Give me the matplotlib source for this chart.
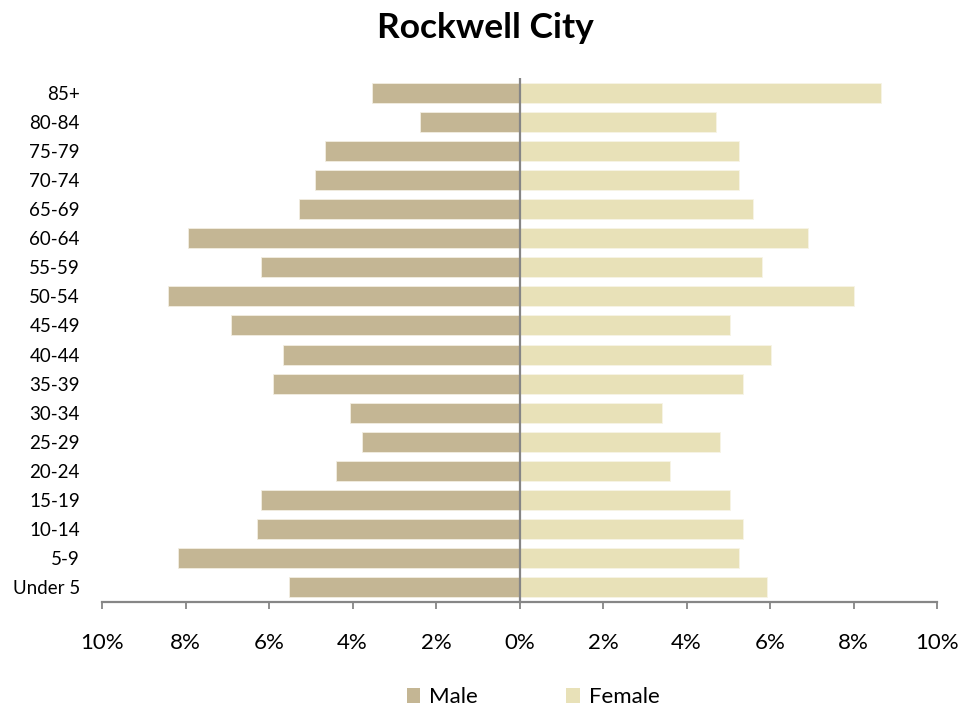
import matplotlib
matplotlib.use("Agg")
import matplotlib.pyplot as plt
from matplotlib.ticker import FuncFormatter
import numpy as np

plt.rcParams['font.family'] = ['Lato', 'DejaVu Sans']

age_groups = ["Under 5", "5-9", "10-14", "15-19", "20-24", "25-29", "30-34", "35-39",
              "40-44", "45-49", "50-54", "55-59", "60-64", "65-69", "70-74", "75-79",
              "80-84", "85+"]
male = [5.52, 8.18, 6.29, 6.18, 4.39, 3.77, 4.05, 5.90,
        5.66, 6.90, 8.42, 6.18, 7.94, 5.28, 4.90, 4.66,
        2.39, 3.53]
female = [5.92, 5.26, 5.36, 5.05, 3.61, 4.81, 3.41, 5.36,
          6.02, 5.05, 8.02, 5.81, 6.91, 5.60, 5.26, 5.26,
          4.71, 8.67]
x_ticks = [-10, -8, -6, -4, -2, 0, 2, 4, 6, 8, 10]

male_color = "#C4B694"
female_color = "#E8E1B8"
axis_gray = "#868686"

fig = plt.figure(figsize=(9.79, 7.13), dpi=100)
ax = fig.add_axes([102/979, 1-602/713, (937-102)/979, (602-78)/713])

y = np.arange(len(age_groups))
ax.barh(y, [-v for v in male], height=0.69, color=male_color, edgecolor="#F2EEE2", linewidth=0.6, label="Male")
ax.barh(y, female, height=0.69, color=female_color, edgecolor="#F7F4E6", linewidth=0.6, label="Female")

ax.set_xlim(-10, 10)
ax.set_ylim(-0.5, len(age_groups) - 0.5)
ax.axvline(0, color=axis_gray, linewidth=1.6, zorder=3)

for s in ["top", "right", "left"]:
    ax.spines[s].set_visible(False)
ax.spines["bottom"].set_color(axis_gray)
ax.spines["bottom"].set_linewidth(1.6)

ax.set_xticks(x_ticks)
ax.xaxis.set_major_formatter(FuncFormatter(lambda v, p: f"{abs(int(round(v)))}%"))
ax.tick_params(axis="x", direction="out", length=5, width=1.3, color=axis_gray,
               labelsize=16, pad=17, labelcolor="#000000")
ax.set_yticks(y)
ax.set_yticklabels(age_groups)
ax.tick_params(axis="y", length=0, labelsize=13.5, pad=16, labelcolor="#000000")

fig.suptitle("Rockwell City", x=485/979, y=1-28/713, va="center", fontsize=25.5, fontweight="bold")

handles, labels = ax.get_legend_handles_labels()
leg = fig.legend(handles, labels, loc="center", bbox_to_anchor=(533/979, 1-697/713), ncol=2,
                 frameon=False, fontsize=16, handlelength=0.6, handleheight=0.65,
                 handletextpad=0.4, columnspacing=4.0)
for h in leg.legend_handles:
    h.set_edgecolor("none")

fig.savefig("out.png", dpi=100)
